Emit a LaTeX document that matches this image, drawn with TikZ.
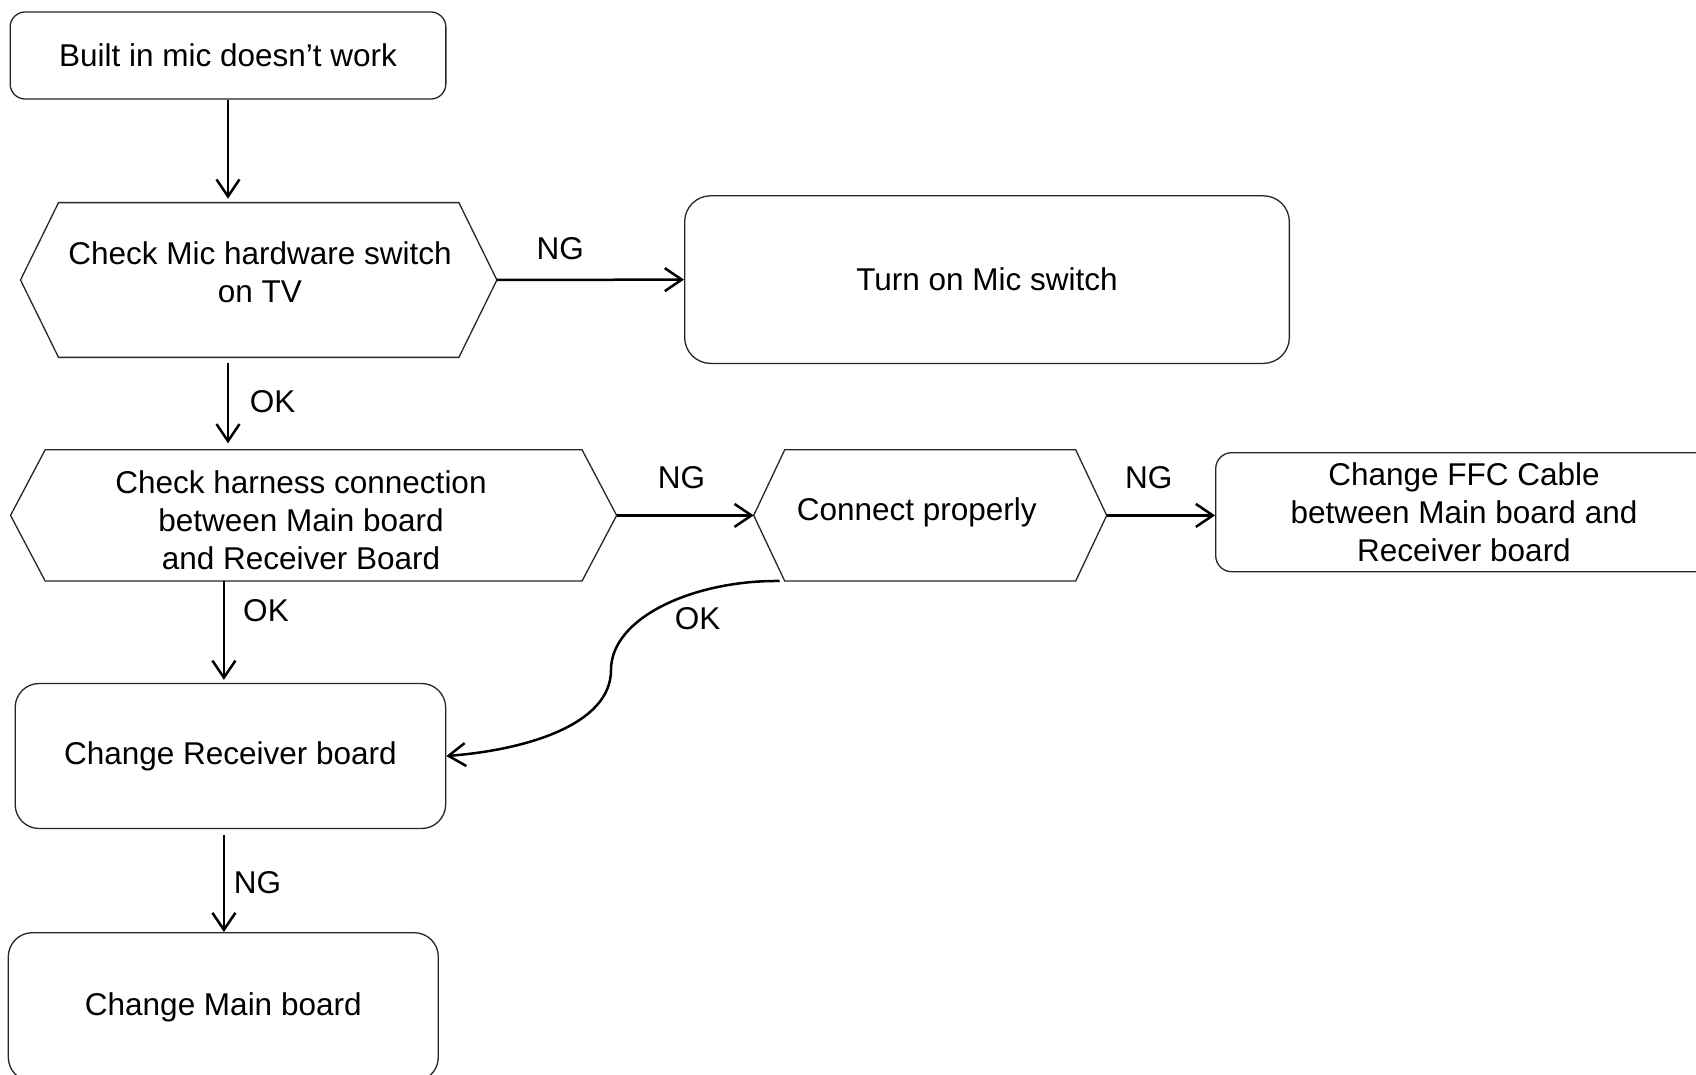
\documentclass[tikz,border=0pt]{standalone}
\usepackage{fontspec}
\setmainfont{Liberation Sans}
\usetikzlibrary{arrows.meta}
\tikzset{
  txt/.style={font=\fontsize{31.5}{38}\selectfont, align=center, inner sep=0pt},
  rbox/.style={draw=black!85, line width=1.3pt, rounded corners=#1, inner sep=0pt,
    font=\fontsize{31.5}{38}\selectfont, align=center},
  rbox/.default=20pt,
  hexnode/.style={draw=none, inner sep=0pt},
  hexline/.style={draw=black!85, line width=1.3pt},
  arr/.style={line width=2.5pt, -{Straight Barb[length=17pt,width=23pt,line width=2.5pt]}},
  lbl/.style={font=\fontsize{31.5}{38}\selectfont, inner sep=0pt}
}
\newcommand{\myhex}[2]{%
  \draw[hexline] (#1.west) -- ([xshift=#2]#1.north west) -- ([xshift=-#2]#1.north east)
    -- (#1.east) -- ([xshift=-#2]#1.south east) -- ([xshift=#2]#1.south west) -- cycle;}
\begin{document}
\begin{tikzpicture}[x=1pt,y=-1pt]
\clip (0,0) rectangle (1696,1075);
\fill[white] (0,0) rectangle (1696,1075);

% boxes
\node[rbox=15pt, minimum width=435.7pt, minimum height=87pt] (b1) at (228,55.5) {Built in mic doesn’t work};

\node[hexnode, minimum width=476pt, minimum height=154.3pt] (h1) at (258.7,280) {};
\myhex{h1}{38pt}
\node[txt] (t1) at (260,272) {Check Mic hardware switch\\on TV};

\node[rbox=26pt, minimum width=604.7pt, minimum height=167.6pt] (m1) at (987,279.6) {Turn on Mic switch};

\node[hexnode, minimum width=605.7pt, minimum height=130.8pt] (h2) at (313.6,515.4) {};
\myhex{h2}{34.6pt}
\node[txt] (t2) at (301,520) {Check harness connection\\between Main board\\ and Receiver Board};

\node[hexnode, minimum width=352.6pt, minimum height=130.8pt] (h3) at (930.2,515.4) {};
\myhex{h3}{31pt}
\node[txt] (t3) at (916.7,512.5) {Connect properly};

\node[rbox=16pt, minimum width=496.6pt, minimum height=119pt] (f1) at (1464,512.2) {Change FFC Cable\\ between Main board and\\Receiver board};

\node[rbox=24pt, minimum width=430.5pt, minimum height=145pt] (r1) at (230.4,756) {Change Receiver board};

\node[rbox=24pt, minimum width=430pt, minimum height=148.6pt] (mb) at (223.3,1007) {Change Main board};

% connectors
\draw[arr, shorten >=4pt] (b1.south) -- (b1.south |- h1.north);
\draw[arr] (h1.east) -- (m1.west);
\draw[arr, shorten <=6pt, shorten >=6.5pt] (h1.south -| b1.south) -- (h2.north -| b1.south);
\draw[arr] (h2.east) -- (h3.west);
\draw[arr] (h3.east) -- (h3.east -| f1.west);
\draw[arr, shorten >=3pt] (h2.south -| 223.9,0) -- (r1.north -| 223.9,0);
\coordinate (cs) at ([xshift=26pt]h3.south west);
\draw[arr] (cs) .. controls (695,580) and (611,617) .. (611,670)
  .. controls (611,725) and (525,750) .. (r1.east);
\draw[arr, shorten <=5.5pt] (r1.south -| 223.9,0) -- (mb.north -| 223.9,0);

% labels
\node[lbl] (l1) at (560.3,249) {NG};
\node[lbl] (l2) at (272.6,401.3) {OK};
\node[lbl] (l3) at (681.4,478) {NG};
\node[lbl] (l4) at (1148.7,478) {NG};
\node[lbl] (l5) at (266,611) {OK};
\node[lbl] (l6) at (697.6,618.7) {OK};
\node[lbl] (l7) at (257.4,882.6) {NG};
\end{tikzpicture}
\end{document}
